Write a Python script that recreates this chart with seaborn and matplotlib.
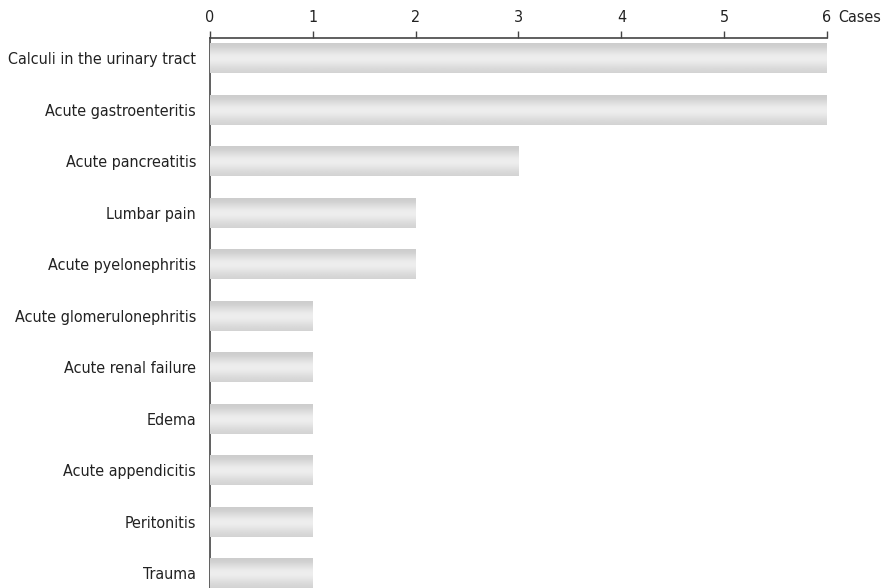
import numpy as np
import pandas as pd
import matplotlib
matplotlib.use("Agg")
import matplotlib.pyplot as plt
import seaborn as sns
from matplotlib import font_manager
from matplotlib.font_manager import FontProperties

categories = ["Calculi in the urinary tract", "Acute gastroenteritis", "Acute pancreatitis",
              "Lumbar pain", "Acute pyelonephritis", "Acute glomerulonephritis",
              "Acute renal failure", "Edema", "Acute appendicitis", "Peritonitis", "Trauma"]
cases = [6, 6, 3, 2, 2, 1, 1, 1, 1, 1, 1]
x_ticks = [0, 1, 2, 3, 4, 5, 6]

sns.set_theme(style="white")

# look for a condensed sans font
cand = None
for f in font_manager.fontManager.ttflist:
    nm = (f.name + " " + f.fname).lower()
    if ("condensed" in nm or "narrow" in nm or str(f.stretch).startswith(("condensed", "semi-condensed"))) \
            and f.style == "normal" and f.weight in (400, "normal", "regular") \
            and "bold" not in f.fname.lower() and "mono" not in nm and "serif" not in f.name.lower():
        cand = f.fname
        if "sans" in nm:
            break
base_fp = FontProperties(fname=cand) if cand else FontProperties(family="DejaVu Sans")
plt.rcParams['font.family'] = ['DejaVu Sans']

df = pd.DataFrame({"category": categories, "cases": cases})

fig = plt.figure(figsize=(8.95, 5.88), dpi=100)
ax = fig.add_axes([210/895, 0/588, (827-210)/895, (588-38)/588])
sns.barplot(data=df, x="cases", y="category", orient="h", color="#dcdcdc",
            width=0.58, ax=ax, edgecolor="none", linewidth=0)

# vertical gradient on each bar (top darker, middle lighter)
grad = np.array([0.80, 0.84, 0.89, 0.93, 0.93, 0.90, 0.86, 0.83]).reshape(-1, 1)
for p in ax.patches:
    x0, y0 = p.get_x(), p.get_y()
    w, h = p.get_width(), p.get_height()
    im = ax.imshow(grad, cmap="gray", vmin=0, vmax=1, aspect="auto",
                   extent=[x0, x0 + w, y0 + h, y0], interpolation="bicubic", zorder=3)
    im.set_clip_path(p)

ax.set_xlim(0, 6)
ax.set_ylim(10.29, -0.39)
ax.xaxis.tick_top()
ax.set_xticks(x_ticks)
ax.set_xticklabels([str(t) for t in x_ticks])
ax.tick_params(axis="x", direction="out", length=5, width=1, color="#444444",
               pad=4, top=True, bottom=False, labeltop=True, labelbottom=False,
               labelcolor="#222222")
ax.tick_params(axis="y", length=0, pad=10, labelcolor="#222222")
ax.set_xlabel("")
ax.set_ylabel("")
for s in ["right", "bottom"]:
    ax.spines[s].set_visible(False)
for s in ["top", "left"]:
    ax.spines[s].set_visible(True)
    ax.spines[s].set_color("#444444")
    ax.spines[s].set_linewidth(1.2)
ax.grid(False)

cases_txt = ax.text((838 - 210) / 617, 1 + 20/550, "Cases", transform=ax.transAxes,
                    va="center", ha="left", color="#222222")

# fit font size so the longest label spans ~188 px as in the reference
fig.canvas.draw()
renderer = fig.canvas.get_renderer()
fp = base_fp.copy()
size = 12.0
for _ in range(6):
    fp.set_size(size)
    t = fig.text(0, 0, categories[0], fontproperties=fp)
    wpx = t.get_window_extent(renderer).width
    t.remove()
    size = size * 188.0 / wpx
size = min(size, 14.0)
fp.set_size(size)
for lab in ax.get_yticklabels() + ax.get_xticklabels():
    lab.set_fontproperties(fp)
cases_txt.set_fontproperties(fp)

fig.savefig("out.png", dpi=100)
